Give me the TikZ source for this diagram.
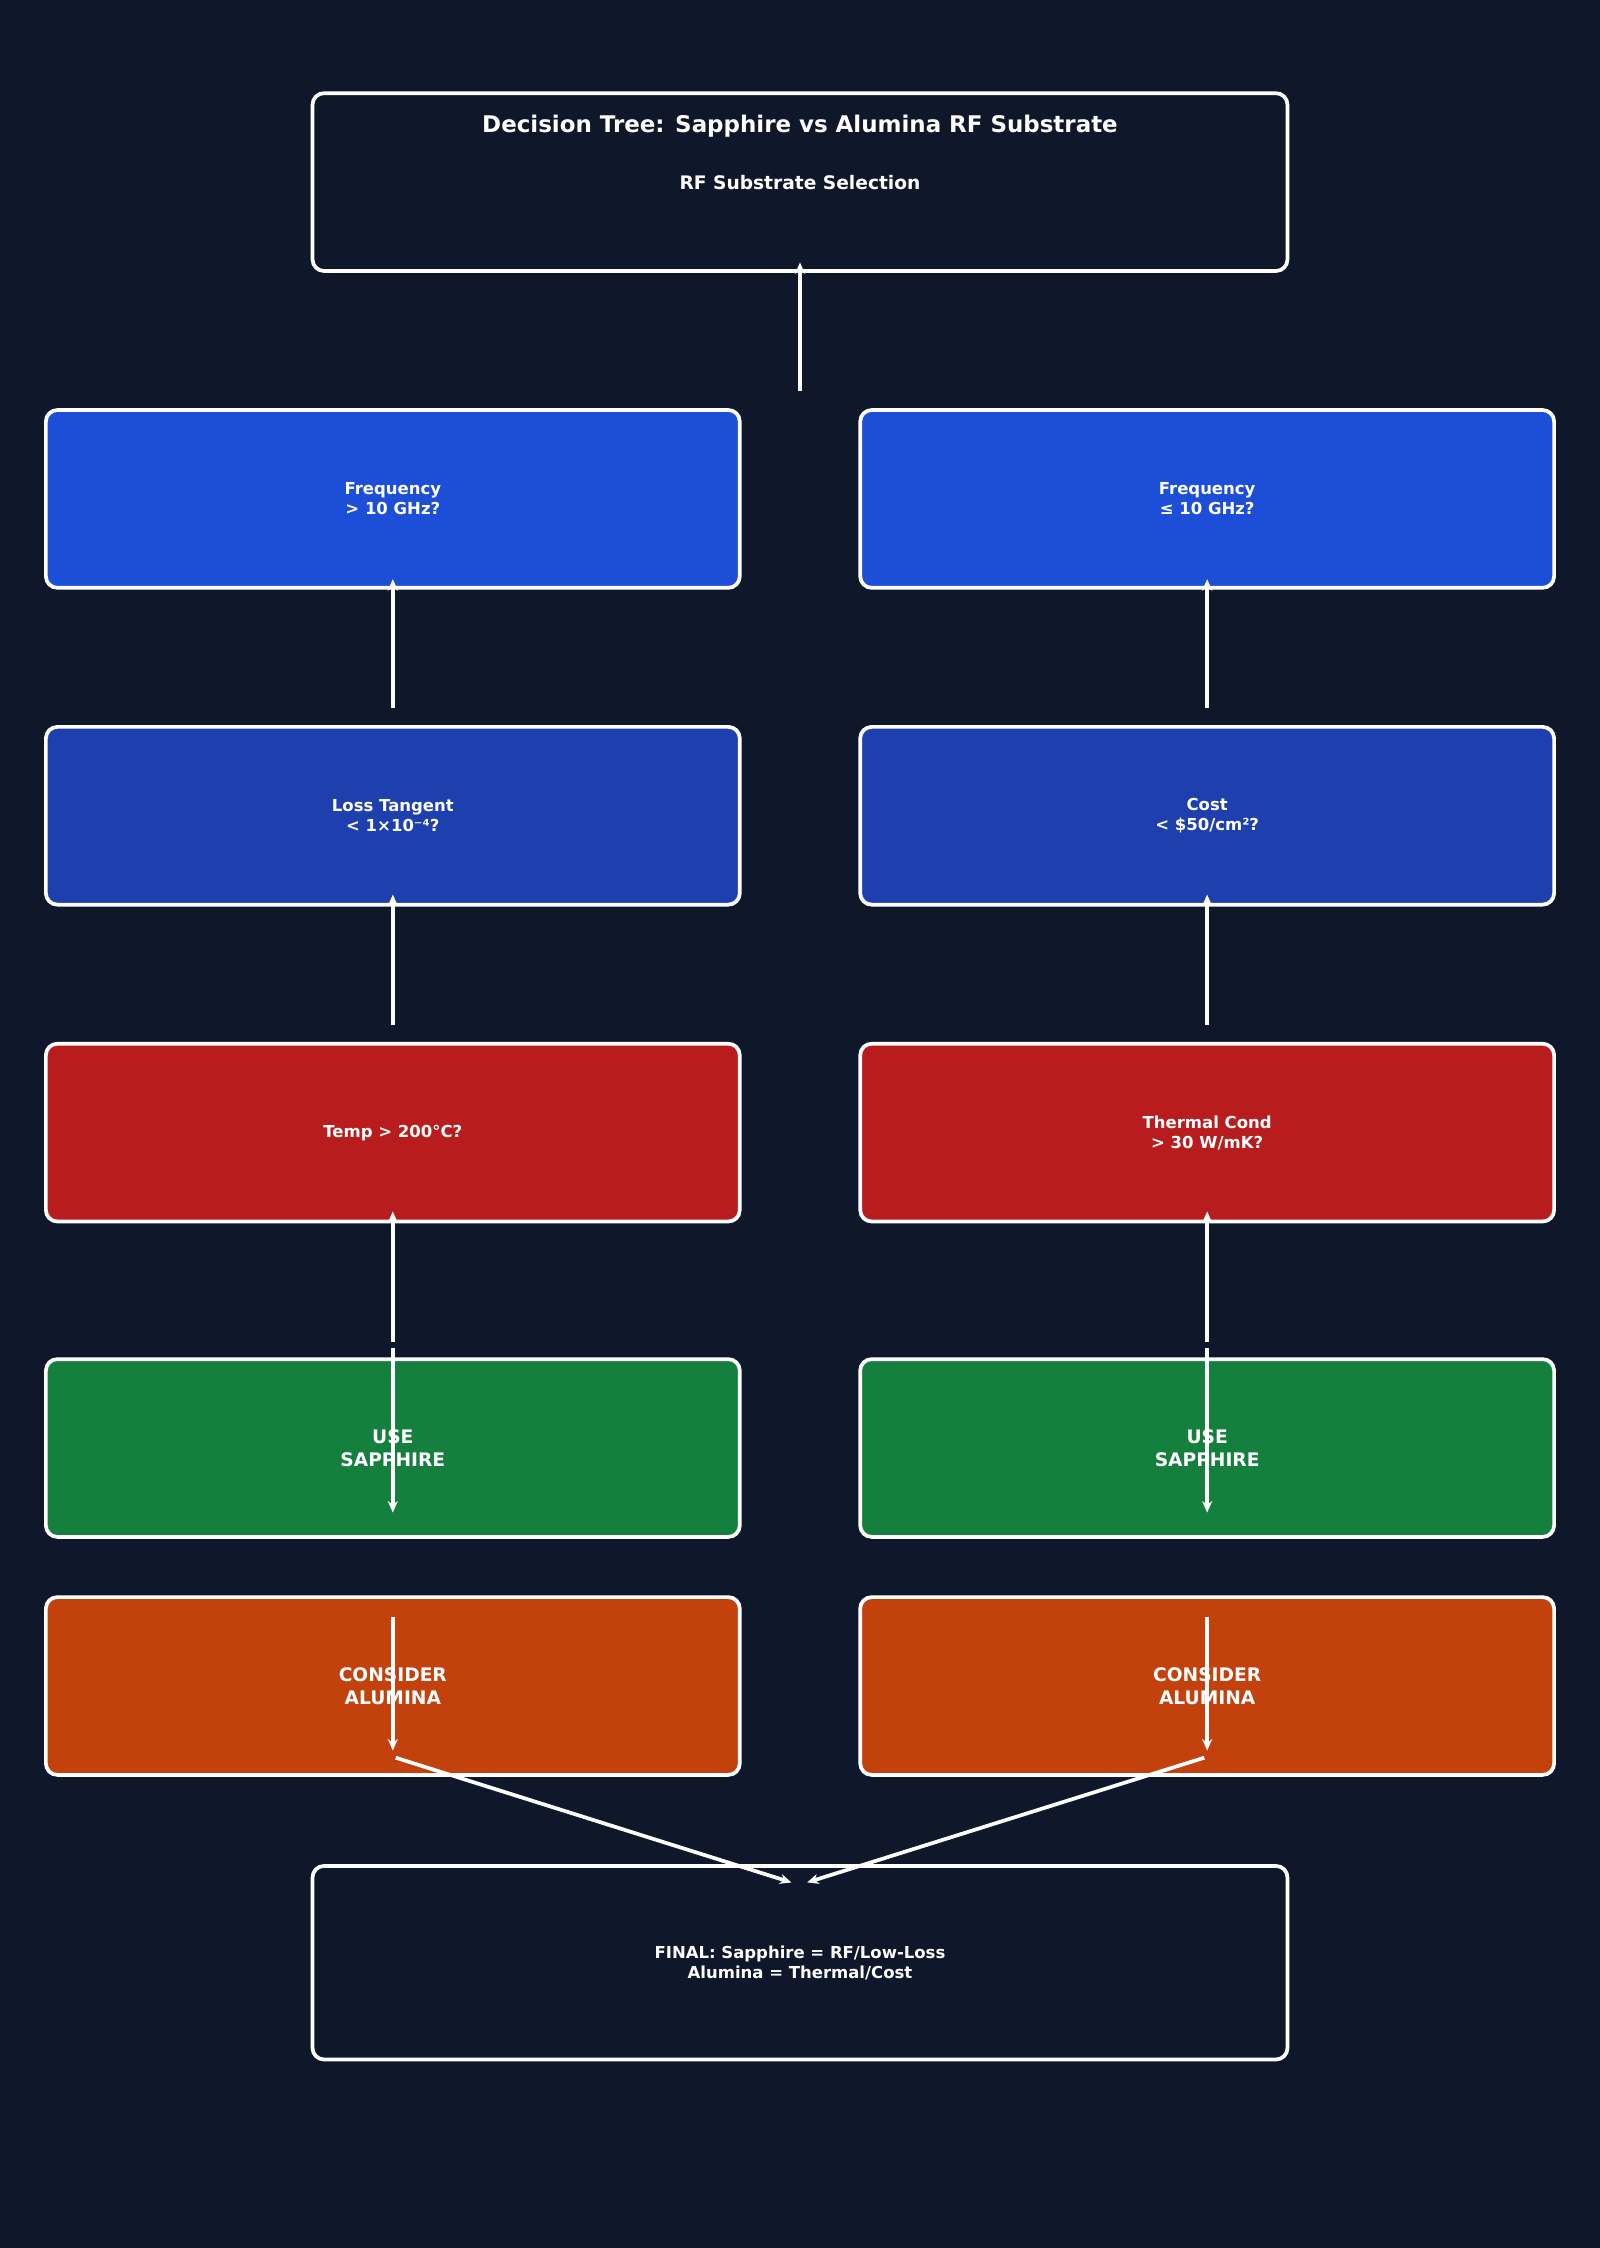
\documentclass[tikz,border=0pt]{standalone}
\usepackage{fontspec}
\setmainfont{DejaVu Sans}
\usetikzlibrary{arrows.meta}
\definecolor{bg}{HTML}{0F172A}
\definecolor{cblue}{HTML}{1D4ED8}
\definecolor{cdblue}{HTML}{1E40AF}
\definecolor{cred}{HTML}{B91C1C}
\definecolor{cgreen}{HTML}{15803D}
\definecolor{corange}{HTML}{C2410C}
\begin{document}
\begin{tikzpicture}[x=1pt,y=-1pt,
  box/.style={draw=white,line width=2.6pt,rounded corners=8pt,text=white,align=center,font=\bfseries\fontsize{11.5}{14}\selectfont},
  bigt/.style={font=\bfseries\fontsize{13}{16}\selectfont},
  arr/.style={draw=white,line width=2.6pt,-{Stealth[length=8pt,width=7pt]}}]
\fill[bg] (0,0) rectangle (1116,1568);
\useasboundingbox (0,0) rectangle (1116,1568);
\node[box,minimum width=680,minimum height=124,fill=bg] (title) at (558,127) {};
\node[text=white,font=\bfseries\fontsize{16}{19}\selectfont] (t1) at (558,88) {Decision Tree: Sapphire vs Alumina RF Substrate};
\node[text=white,font=\bfseries\fontsize{13}{16}\selectfont] (t2) at (558,127) {RF Substrate Selection};
\foreach \n/\x in {L/274,R/842}{
}
\node[box,minimum width=484,minimum height=124,fill=cblue] (a1) at (274,348) {Frequency\\> 10 GHz?};
\node[box,minimum width=484,minimum height=124,fill=cblue] (b1) at (842,348) {Frequency\\≤ 10 GHz?};
\node[box,minimum width=484,minimum height=124,fill=cdblue] (a2) at (274,569) {Loss Tangent\\< 1×10⁻⁴?};
\node[box,minimum width=484,minimum height=124,fill=cdblue] (b2) at (842,569) {Cost\\< \$50/cm²?};
\node[box,minimum width=484,minimum height=124,fill=cred] (a3) at (274,790) {Temp > 200°C?};
\node[box,minimum width=484,minimum height=124,fill=cred] (b3) at (842,790) {Thermal Cond\\> 30 W/mK?};
\node[box,bigt,minimum width=484,minimum height=124,fill=cgreen] (a4) at (274,1010) {USE\\SAPPHIRE};
\node[box,bigt,minimum width=484,minimum height=124,fill=cgreen] (b4) at (842,1010) {USE\\SAPPHIRE};
\node[box,bigt,minimum width=484,minimum height=124,fill=corange] (a5) at (274,1176) {CONSIDER\\ALUMINA};
\node[box,bigt,minimum width=484,minimum height=124,fill=corange] (b5) at (842,1176) {CONSIDER\\ALUMINA};
\node[box,minimum width=680,minimum height=135,fill=bg] (fin) at (558,1369) {FINAL: Sapphire = RF/Low-Loss\\Alumina = Thermal/Cost};
\coordinate (s0) at (558,273); \coordinate (e0) at (558,183);
\draw[arr] (s0) -- (e0);
\foreach \c/\x in {a/274,b/842}{
  \coordinate (\c s1) at (\x,494); \coordinate (\c e1) at (\x,404);
  \coordinate (\c s2) at (\x,715); \coordinate (\c e2) at (\x,624);
  \coordinate (\c s3) at (\x,936); \coordinate (\c e3) at (\x,845);
  \coordinate (\c s4) at (\x,940); \coordinate (\c e4) at (\x,1055);
  \coordinate (\c s5) at (\x,1128); \coordinate (\c e5) at (\x,1221);
  \draw[arr] (\c s1) -- (\c e1);
  \draw[arr] (\c s2) -- (\c e2);
  \draw[arr] (\c s3) -- (\c e3);
  \draw[arr] (\c s4) -- (\c e4);
  \draw[arr] (\c s5) -- (\c e5);
}
\coordinate (as6) at (276,1226); \coordinate (ae6) at (552,1313);
\coordinate (bs6) at (840,1226); \coordinate (be6) at (563,1313);
\draw[arr] (as6) -- (ae6);
\draw[arr] (bs6) -- (be6);
\end{tikzpicture}
\end{document}
